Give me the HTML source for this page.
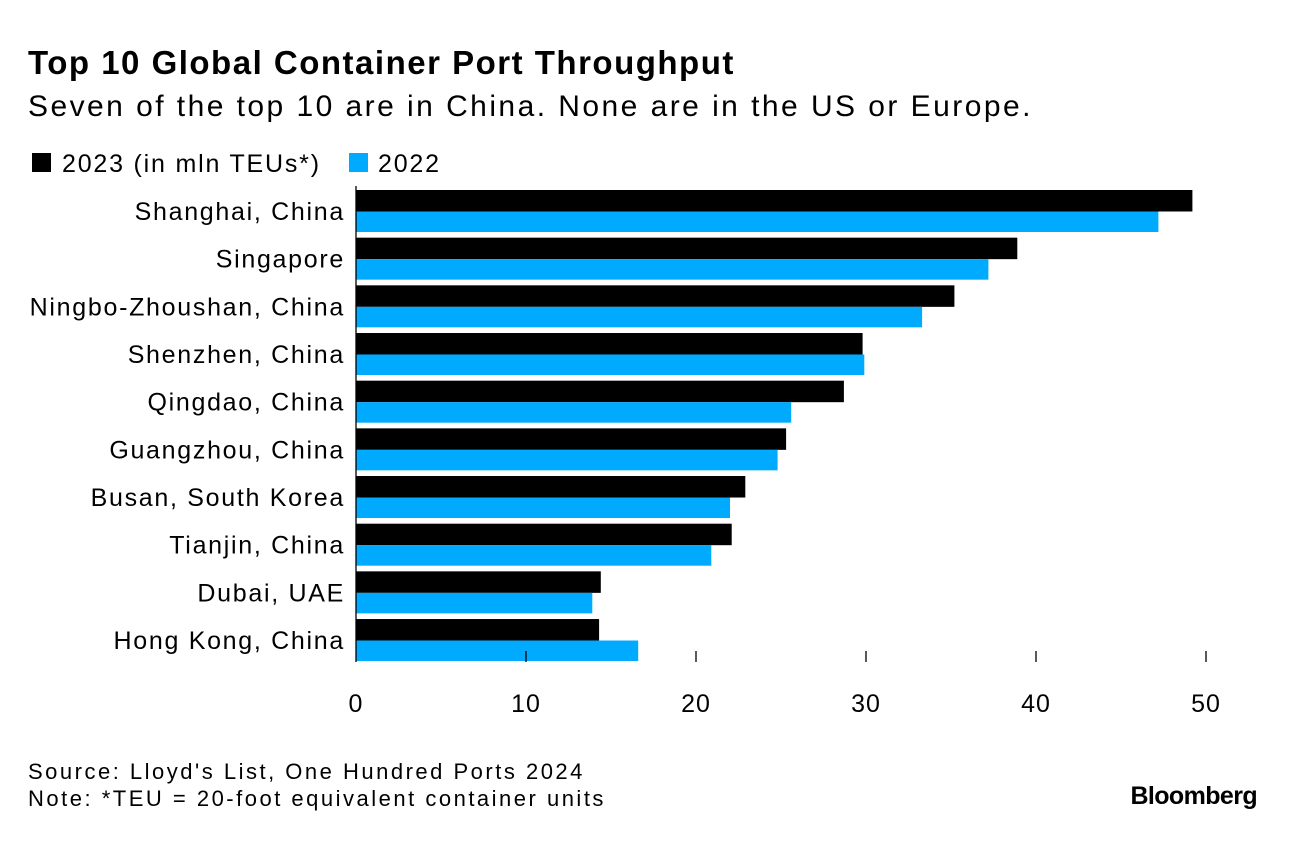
<!DOCTYPE html>
<html><head><meta charset="utf-8"><style>
body{margin:0;background:#fff;width:1296px;height:838px;overflow:hidden;font-family:"Liberation Sans",Arial,sans-serif}
</style></head><body>
<svg id="chart" width="1296" height="838" xmlns="http://www.w3.org/2000/svg" font-family="Liberation Sans, Arial, sans-serif">
<text x="28" y="74" font-size="33" font-weight="bold" letter-spacing="1.5" fill="#000">Top 10 Global Container Port Throughput</text>
<text x="28" y="116" font-size="30" letter-spacing="2.45" fill="#000">Seven of the top 10 are in China. None are in the US or Europe.</text>
<g>
<rect x="32" y="153" width="19" height="19" fill="#000"/>
<text x="62" y="172" font-size="25" letter-spacing="1.8">2023 (in mln TEUs*)</text>
<rect x="349" y="153" width="19" height="19" fill="#00aaff"/>
<text x="378" y="172" font-size="25" letter-spacing="1.8">2022</text>
</g>
<g id="bars"></g>
<g id="axis"></g>
<text x="28" y="779" font-size="22" letter-spacing="2.5">Source: Lloyd's List, One Hundred Ports 2024</text>
<text x="28" y="806" font-size="22" letter-spacing="2.5">Note: *TEU = 20-foot equivalent container units</text>
<text x="1257" y="804" font-size="25" font-weight="bold" text-anchor="end" letter-spacing="-0.6">Bloomberg</text>
</svg>
<script>
const categories=["Shanghai, China","Singapore","Ningbo-Zhoushan, China","Shenzhen, China","Qingdao, China","Guangzhou, China","Busan, South Korea","Tianjin, China","Dubai, UAE","Hong Kong, China"];
const values2023=[49.2,38.9,35.2,29.8,28.7,25.3,22.9,22.1,14.4,14.3];
const values2022=[47.2,37.2,33.3,29.9,25.6,24.8,22.0,20.9,13.9,16.6];
const ticks=[0,10,20,30,40,50];
const NS="http://www.w3.org/2000/svg";
const x=v=>356+v*17.0;
const rowY=i=>190+i*47.67;
const bars=document.getElementById('bars');
function mk(tag,attrs,parent){const e=document.createElementNS(NS,tag);for(const k in attrs)e.setAttribute(k,attrs[k]);parent.appendChild(e);return e;}
categories.forEach((c,i)=>{
  const y=rowY(i);
  const b1=mk('rect',{x:x(0),y:y,width:x(values2023[i])-x(0),height:21.5,fill:'#000'},bars);
  
  
  const b2=mk('rect',{x:x(0),y:y+21.5,width:x(values2022[i])-x(0),height:20.5,fill:'#00aaff'},bars);
  
  
  const t=mk('text',{x:345,y:y+30,'font-size':25,'letter-spacing':1.7,'text-anchor':'end',fill:'#000'},bars);
  t.textContent=c;
  
  
});
const axis=document.getElementById('axis');
ticks.forEach(v=>{
  const l=mk('line',{x1:x(v),x2:x(v),y1:v===0?186:651,y2:662,stroke:'#000','stroke-width':1.3},axis);
  
  
  const t=mk('text',{x:x(v),y:712,'font-size':25,'letter-spacing':1,'text-anchor':'middle'},axis);
  t.textContent=v;
  
  
});
</script>
</body></html>
